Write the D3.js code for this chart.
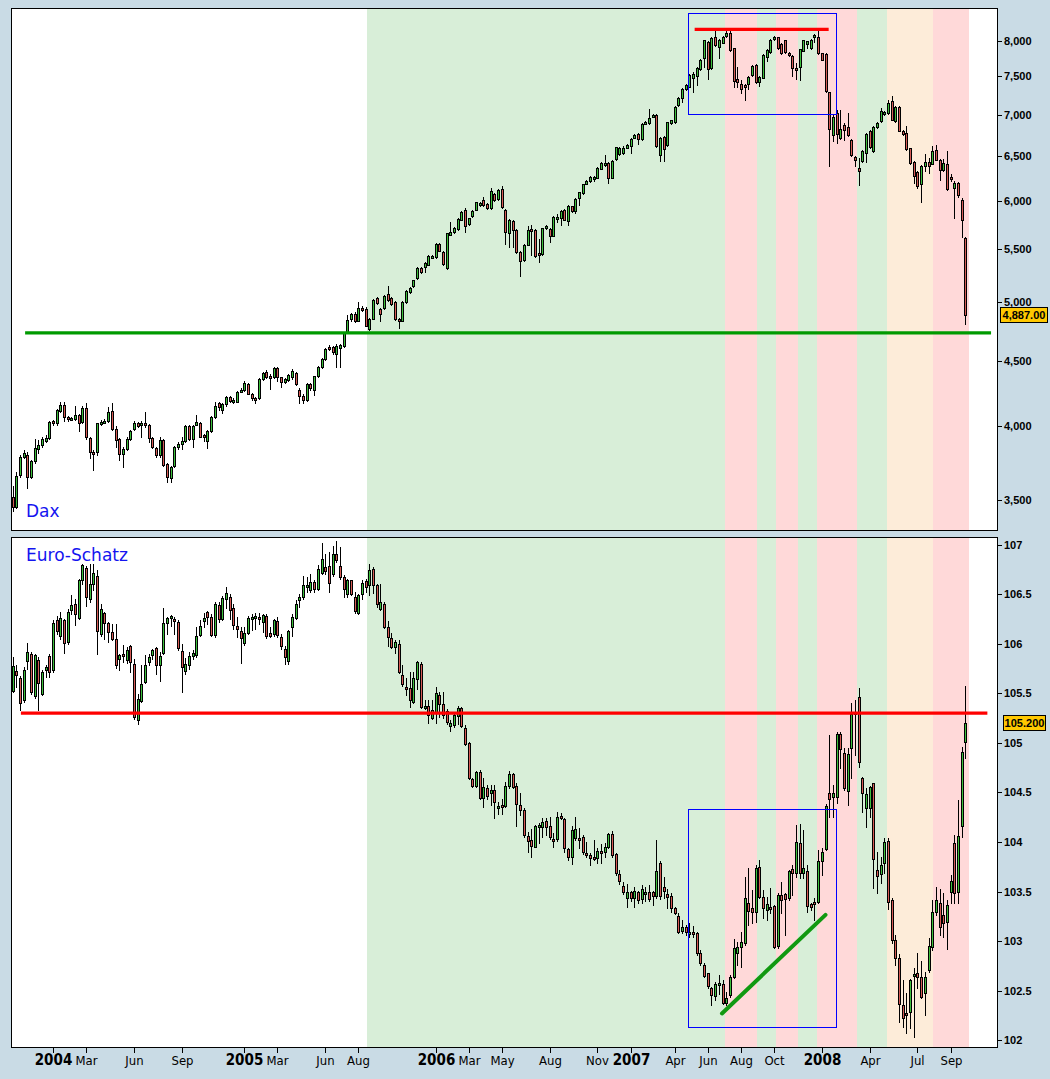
<!DOCTYPE html>
<html><head><meta charset="utf-8">
<script src="https://cdn.jsdelivr.net/npm/d3@7/dist/d3.min.js"></script>
<style>
html,body{margin:0;padding:0;background:#c9dbe5;}
svg{display:block;}
</style></head><body>
<svg id="c" width="1050" height="1079"></svg>
<script>
// ---- weekly bars (Sunday-dated) ----
const firstWeek = "2003-10-19";
const lastWeek = "2008-10-05";

// ---- DAX weekly OHLC ----
const daxOpen = [3518,3460,3660,3785,3800,3650,3755,3836,3866,3895,
3914,4033,4020,4110,4155,4065,4050,4052,4078,4030,
4130,3913,3817,3815,4020,4030,4040,4108,3980,3907,
3803,3839,3909,3980,4020,4020,4025,4008,3913,3844,
3795,3903,3734,3646,3720,3851,3873,3895,4000,3909,
4010,4020,3938,3891,3966,4063,4168,4118,4160,4213,
4180,4180,4257,4265,4318,4240,4206,4205,4353,4405,
4378,4365,4440,4365,4333,4345,4365,4400,4270,4225,
4193,4313,4270,4375,4448,4512,4608,4608,4553,4600,
4622,4737,4846,4893,4835,4945,4939,4766,4852,5035,
4939,4945,5068,5035,5000,4850,4835,5000,5089,5145,
5224,5312,5322,5346,5420,5418,5550,5467,5315,5643,
5673,5701,5797,5899,5751,5833,5902,5955,6005,5960,
5924,6067,6016,6122,5902,5657,5786,5694,5467,5395,
5543,5701,5694,5457,5450,5708,5701,5633,5815,5811,
5899,5780,5938,5892,6024,6081,6187,6216,6250,6254,
6356,6400,6417,6254,6460,6520,6532,6600,6615,6718,
6767,6699,6887,6898,6980,6999,6516,6732,6632,6898,
6910,7123,7217,7333,7366,7478,7500,7600,7755,7985,
7618,8056,7905,7970,8066,8105,7890,7466,7396,7387,
7396,7521,7657,7430,7485,7770,7840,8019,8047,7951,
8004,7827,7780,7617,7630,7856,7957,7890,8048,8048,
7820,7810,7291,6753,7022,6718,6875,6846,6692,6488,
6361,6437,6535,6805,6561,6846,6925,7010,7022,7176,
6920,7105,6801,6771,6593,6431,6318,6180,6386,6431,
6411,6573,6449,6334,6411,6259,6137,6190,6010,5606];
const daxHigh = [3590,3683,3800,3830,3815,3765,3905,3903,3925,3935,
4040,4045,4125,4180,4180,4075,4068,4150,4090,4150,
4167,3920,3830,4025,4045,4050,4138,4167,4000,3915,
3850,3920,3975,4040,4030,4035,4100,4015,3920,3850,
3925,3910,3740,3725,3860,3885,3920,4010,4010,4010,
4078,4030,3945,3975,4070,4176,4180,4170,4225,4225,
4205,4260,4283,4336,4325,4245,4215,4360,4405,4425,
4390,4445,4450,4372,4360,4395,4432,4410,4280,4235,
4325,4320,4380,4460,4520,4605,4625,4620,4635,4640,
4740,4880,4905,4910,5000,4960,4955,4860,5030,5045,
4950,5060,5145,5045,5010,4860,5005,5105,5135,5205,
5320,5325,5370,5440,5440,5555,5560,5475,5665,5770,
5720,5815,5890,5920,5820,5895,5990,5990,6040,5970,
6132,6080,6125,6160,5910,5805,5795,5700,5475,5545,
5735,5740,5700,5600,5715,5745,5710,5840,5860,5895,
5910,5955,5945,6025,6095,6185,6225,6275,6270,6375,
6435,6510,6430,6450,6610,6610,6615,6640,6715,6760,
6775,6900,6920,7078,7015,7010,6730,6740,6915,6940,
7110,7230,7345,7400,7535,7560,7625,7745,8015,7995,
8045,8150,8020,8070,8150,8140,7900,7630,7450,7400,
7505,7650,7670,7505,7805,7875,8020,8060,8055,7960,
8010,7840,7790,7680,7885,8015,8000,8020,8090,8140,
7830,7820,7300,7000,7060,7060,6900,7026,6705,6500,
6480,6570,6770,6815,6855,6910,7085,7050,7190,7240,
7110,7115,6810,6862,6600,6440,6325,6400,6520,6480,
6620,6630,6460,6470,6561,6290,6210,6200,6030,5615];
const daxLow = [3432,3450,3650,3775,3580,3640,3745,3808,3855,3888,
3905,4005,4010,4100,4040,4040,4045,4045,3966,4025,
3910,3780,3695,3800,4010,4020,4030,3970,3851,3766,
3718,3830,3900,3975,3995,3920,3990,3885,3845,3785,
3785,3720,3620,3618,3715,3840,3840,3890,3900,3851,
4005,3920,3895,3844,3960,4055,4120,4093,4150,4175,
4170,4175,4250,4260,4235,4195,4167,4200,4345,4360,
4275,4360,4336,4290,4320,4335,4355,4310,4167,4167,
4185,4270,4230,4370,4440,4505,4585,4555,4448,4450,
4615,4730,4835,4820,4830,4920,4785,4750,4845,4980,
4835,4935,5005,4970,4840,4772,4830,4990,5080,5135,
5215,5270,5275,5340,5410,5410,5475,5345,5305,5635,
5665,5690,5790,5670,5745,5825,5895,5945,5945,5915,
5915,6000,6010,5920,5550,5517,5517,5460,5243,5385,
5535,5437,5420,5370,5440,5700,5567,5625,5770,5740,
5790,5740,5880,5865,5950,6075,6180,6205,6210,6245,
6350,6390,6198,6245,6455,6510,6525,6590,6540,6710,
6640,6690,6880,6890,6970,6605,6443,6443,6620,6890,
6900,7115,7160,7320,7355,7299,7387,7590,7630,7470,
7600,7920,7747,7960,8050,7855,7360,7360,7285,7189,
7333,7510,7410,7375,7475,7713,7830,8010,7880,7810,
7830,7780,7500,7462,7450,7850,7890,7885,7985,7810,
7720,7300,6380,6680,6650,6700,6692,6740,6495,6390,
6165,6430,6427,6595,6550,6840,6915,7000,7015,6930,
6910,6795,6750,6575,6410,6190,6137,5990,6330,6300,
6405,6450,6229,6325,6115,6220,5820,6040,5616,4810];
const daxClose = [3455,3655,3782,3808,3650,3755,3845,3866,3907,3914,
4028,4020,4117,4155,4063,4050,4058,4078,4025,4130,
3920,3817,3812,4020,4032,4040,4105,3980,3900,3803,
3839,3909,3967,4025,4003,4025,4010,3913,3851,3795,
3903,3729,3652,3718,3851,3873,3895,4000,3909,4003,
4028,3925,3928,3966,4063,4146,4138,4160,4213,4187,
4195,4253,4265,4323,4240,4206,4200,4350,4397,4365,
4360,4440,4368,4333,4350,4385,4413,4318,4225,4193,
4318,4280,4373,4452,4512,4594,4600,4567,4622,4628,
4733,4838,4893,4830,4945,4935,4790,4852,5020,4990,
4890,5053,5014,4978,4846,4835,5000,5095,5126,5197,
5312,5280,5360,5428,5428,5546,5483,5353,5657,5667,
5708,5804,5881,5728,5811,5885,5980,5975,5955,5924,
6100,6009,6118,5928,5673,5797,5694,5467,5380,5539,
5691,5684,5428,5450,5708,5735,5633,5829,5829,5885,
5797,5945,5892,6016,6089,6176,6212,6265,6258,6367,
6425,6425,6254,6440,6603,6600,6600,6627,6707,6745,
6699,6890,6910,6958,7000,6615,6720,6587,6906,6930,
7103,7218,7333,7387,7521,7535,7614,7732,8004,7597,
8033,7937,8009,8056,8105,7866,7444,7430,7334,7375,
7494,7640,7423,7494,7795,7866,8009,8047,7890,7818,
7840,7795,7614,7612,7876,8004,7990,8009,8081,7820,
7732,7312,6822,6970,6760,6826,6813,6745,6507,6457,
6323,6561,6761,6606,6846,6897,7051,7035,7155,6937,
7098,6805,6761,6581,6420,6274,6164,6390,6434,6390,
6561,6457,6342,6420,6126,6237,6190,6056,5798,4887];

// ---- Euro-Schatz weekly OHLC ----
const schOpen = [105.524,105.722,105.655,105.430,105.827,105.897,105.470,105.840,105.497,105.739,
105.874,105.733,106.237,106.079,106.237,106.015,106.338,106.405,106.264,106.641,
106.765,106.456,106.607,106.681,106.096,106.311,106.210,106.116,106.049,105.844,
105.901,105.837,105.978,105.800,105.228,105.423,105.615,105.817,105.884,105.958,
105.783,105.911,106.210,106.267,106.254,106.217,105.928,105.726,105.783,105.874,
105.884,106.093,106.227,106.318,106.267,106.093,106.388,106.247,106.449,106.473,
106.362,106.177,106.129,106.008,106.113,106.264,106.267,106.274,106.220,106.284,
106.113,106.096,106.227,106.069,105.951,105.827,106.170,106.264,106.439,106.473,
106.574,106.547,106.624,106.550,106.718,106.775,106.785,106.708,106.903,106.782,
106.674,106.506,106.641,106.473,106.314,106.500,106.631,106.597,106.752,106.594,
106.355,106.399,106.167,106.055,105.965,105.995,105.682,105.564,105.551,105.416,
105.642,105.796,105.349,105.373,105.248,105.306,105.484,105.393,105.326,105.174,
105.181,105.275,105.349,105.147,104.996,104.636,104.569,104.710,104.448,104.542,
104.492,104.525,104.340,104.374,104.364,104.566,104.687,104.566,104.374,104.323,
104.064,104.021,103.953,104.162,104.148,104.216,104.162,104.031,104.027,104.263,
104.229,103.926,103.852,104.041,104.044,104.048,103.886,103.869,103.852,103.835,
103.913,103.903,103.947,104.078,103.876,103.675,103.561,103.438,103.491,103.438,
103.491,103.420,103.473,103.491,103.491,103.456,103.791,103.544,103.473,103.455,
103.331,103.257,103.106,103.146,103.089,103.096,103.079,102.884,102.759,102.675,
102.524,102.450,102.564,102.564,102.372,102.456,102.635,102.884,102.944,102.978,
103.381,103.331,103.297,103.745,103.449,103.314,103.348,103.355,102.951,103.466,
103.476,103.432,103.725,103.684,103.987,103.691,103.708,103.375,103.392,103.392,
103.812,103.926,104.498,104.458,104.458,105.087,104.895,104.515,104.946,105.316,
105.467,104.643,104.340,104.340,104.592,103.718,103.674,103.792,104.010,103.415,
103.012,102.826,102.356,102.278,102.288,102.651,102.675,102.641,102.473,102.709,
102.944,103.297,103.381,103.264,103.197,103.499,103.987,103.499,104.165,105.006];
const schHigh = [105.867,105.783,105.672,105.766,106.008,105.918,105.901,105.867,105.733,105.783,
105.901,106.237,106.281,106.321,106.254,106.355,106.489,106.456,106.658,106.809,
106.782,106.809,106.809,106.742,106.405,106.321,106.220,106.203,106.197,105.901,
105.985,105.968,105.985,105.850,105.497,105.783,105.884,105.901,105.951,105.968,
105.918,106.365,106.271,106.294,106.271,106.244,105.995,105.860,105.918,105.934,
106.170,106.237,106.311,106.331,106.298,106.422,106.422,106.479,106.574,106.506,
106.405,106.271,106.170,106.170,106.277,106.298,106.311,106.311,106.304,106.298,
106.170,106.254,106.271,106.103,105.975,106.143,106.298,106.439,106.506,106.681,
106.674,106.708,106.648,106.792,107.017,106.910,106.927,106.984,107.038,106.977,
106.691,106.658,106.648,106.523,106.506,106.641,106.658,106.809,106.779,106.604,
106.600,106.426,106.234,106.106,106.039,106.039,105.786,105.652,105.719,105.719,
105.830,105.820,105.433,105.433,105.433,105.568,105.517,105.511,105.339,105.231,
105.316,105.376,105.366,105.181,105.013,104.643,104.720,104.727,104.643,104.576,
104.576,104.576,104.407,104.431,104.609,104.720,104.694,104.593,104.498,104.340,
104.105,104.128,104.172,104.189,104.239,104.239,104.256,104.088,104.306,104.290,
104.239,103.937,104.162,104.249,104.138,104.071,104.004,103.886,104.021,103.937,
103.980,103.987,104.088,104.115,103.886,103.720,103.597,103.579,103.509,103.544,
103.509,103.562,103.544,103.562,103.509,104.021,103.809,103.650,103.526,103.482,
103.348,103.281,103.213,103.163,103.180,103.150,103.096,102.910,102.776,102.682,
102.541,102.591,102.658,102.608,102.490,102.658,103.018,102.994,103.096,103.650,
103.735,103.516,103.768,103.819,103.516,103.449,103.533,103.365,103.482,103.600,
103.482,103.718,103.768,104.172,104.182,104.121,103.768,103.381,103.432,103.920,
103.937,104.384,105.080,104.575,105.114,105.114,104.946,104.946,105.400,105.433,
105.551,104.660,104.542,104.565,104.599,103.903,103.853,104.037,104.037,103.432,
103.062,102.870,102.608,102.480,102.614,102.726,102.877,102.803,102.692,103.028,
103.415,103.550,103.523,103.482,103.415,103.667,104.071,104.424,104.962,105.574];
const schLow = [105.514,105.564,105.336,105.413,105.749,105.497,105.453,105.329,105.480,105.665,
105.665,105.716,106.103,106.052,105.907,106.002,106.304,106.187,106.254,106.607,
106.378,106.422,106.540,105.894,106.076,106.052,106.019,106.035,105.759,105.732,
105.817,105.807,105.716,105.245,105.188,105.413,105.605,105.783,105.850,105.699,
105.625,105.901,106.103,106.177,106.103,105.941,105.514,105.699,105.749,105.850,
105.867,106.076,106.170,106.203,106.076,106.069,106.220,106.237,106.365,106.254,
106.153,106.069,105.807,105.985,106.103,106.143,106.153,106.203,106.119,106.062,
106.069,106.076,106.069,105.951,105.793,105.793,106.076,106.254,106.372,106.456,
106.523,106.523,106.523,106.540,106.708,106.708,106.523,106.681,106.826,106.658,
106.473,106.473,106.489,106.311,106.304,106.456,106.523,106.489,106.510,106.375,
106.341,106.156,105.978,105.955,105.904,105.709,105.575,105.484,105.366,105.406,
105.541,105.349,105.340,105.198,105.238,105.205,105.265,105.248,105.191,105.124,
105.164,105.188,105.164,104.979,104.633,104.559,104.552,104.431,104.357,104.431,
104.374,104.239,104.283,104.283,104.350,104.549,104.549,104.162,104.273,104.054,
103.903,103.852,103.947,103.987,104.054,104.071,104.027,103.953,104.014,104.229,
103.903,103.819,103.778,104.021,103.937,103.879,103.852,103.768,103.819,103.792,
103.792,103.852,103.937,103.852,103.667,103.579,103.473,103.349,103.403,103.349,
103.385,103.385,103.403,103.403,103.367,103.438,103.420,103.438,103.332,103.291,
103.270,103.079,103.079,103.062,103.045,103.040,102.860,102.759,102.641,102.524,
102.356,102.406,102.467,102.366,102.356,102.440,102.625,102.759,102.742,102.961,
103.163,103.180,103.197,103.432,103.230,103.213,103.281,102.927,102.927,103.281,
103.062,103.415,103.466,103.650,103.634,103.634,103.297,103.314,103.213,103.382,
103.667,103.920,104.256,104.256,104.391,104.744,104.525,104.374,104.643,104.878,
104.754,104.306,104.155,104.256,103.533,103.489,103.583,103.684,103.321,102.978,
102.759,102.187,102.137,102.070,102.120,102.036,102.524,102.423,102.255,102.692,
102.911,103.264,103.062,103.045,102.917,103.388,103.388,103.388,104.054,104.845];
const schClose = [105.776,105.682,105.406,105.733,105.914,105.514,105.884,105.608,105.716,105.766,
105.716,106.210,106.126,106.261,106.008,106.321,106.388,106.298,106.641,106.795,
106.473,106.600,106.715,106.126,106.355,106.210,106.119,106.052,105.790,105.884,
105.874,105.941,105.817,105.262,105.440,105.598,105.783,105.867,105.934,105.783,
105.874,106.210,106.261,106.277,106.244,105.961,105.766,105.800,105.874,105.907,
106.076,106.177,106.261,106.271,106.093,106.405,106.247,106.466,106.513,106.345,
106.187,106.153,106.056,106.113,106.261,106.271,106.284,106.264,106.288,106.076,
106.076,106.237,106.086,105.975,105.867,106.126,106.271,106.405,106.473,106.590,
106.590,106.624,106.557,106.752,106.853,106.732,106.614,106.903,106.843,106.674,
106.550,106.641,106.506,106.331,106.496,106.614,106.574,106.748,106.594,106.399,
106.419,106.167,106.072,105.971,106.015,105.719,105.591,105.541,105.433,105.652,
105.820,105.359,105.373,105.282,105.332,105.501,105.393,105.282,105.208,105.205,
105.282,105.349,105.174,104.989,104.649,104.569,104.710,104.448,104.552,104.468,
104.525,104.407,104.364,104.367,104.566,104.687,104.559,104.381,104.323,104.071,
104.014,103.963,104.162,104.172,104.206,104.155,104.048,104.017,104.256,104.239,
103.937,103.852,104.122,104.128,104.021,103.903,103.869,103.842,103.842,103.913,
103.903,103.947,104.078,103.869,103.684,103.604,103.491,103.491,103.438,103.509,
103.410,103.526,103.491,103.420,103.456,103.703,103.456,103.509,103.445,103.338,
103.281,103.096,103.146,103.096,103.096,103.072,102.884,102.776,102.651,102.547,
102.456,102.567,102.574,102.379,102.423,102.641,102.927,102.944,102.988,103.432,
103.308,103.297,103.735,103.449,103.338,103.375,103.338,102.944,103.466,103.415,
103.422,103.708,103.691,103.997,103.684,103.735,103.358,103.348,103.382,103.812,
103.903,104.367,104.431,104.498,105.087,104.935,104.542,104.888,105.289,105.289,
104.804,104.498,104.485,104.552,103.825,103.661,103.768,103.997,103.398,103.012,
102.826,102.366,102.221,102.265,102.608,102.668,102.635,102.440,102.641,102.951,
103.297,103.415,103.146,103.180,103.365,103.607,103.482,104.061,104.912,105.200];

// ---- axis ticks ----
const daxTicks = [3500,4000,4500,5000,5500,6000,6500,7000,7500,8000];
const schTicks = [102,102.5,103,103.5,104,104.5,105,105.5,106,106.5,107];
const xTickMonths = ["2004-01","2004-03","2004-06","2004-09","2005-01","2005-03","2005-06","2005-08",
"2006-01","2006-03","2006-05","2006-08","2006-11","2007-01","2007-04","2007-06","2007-08","2007-10",
"2008-01","2008-04","2008-07","2008-09"];
const xTickLabels = ["2004","Mar","Jun","Sep","2005","Mar","Jun","Aug","2006","Mar","May","Aug","Nov",
"2007","Apr","Jun","Aug","Oct","2008","Apr","Jul","Sep"];

// ---- background regimes ----
const bandStarts = ["2005-08-24","2007-07-06","2007-09-05","2007-10-10","2007-11-21","2007-12-28","2008-03-12","2008-05-09","2008-08-04"];
const bandEnds   = ["2007-07-06","2007-09-05","2007-10-10","2007-11-21","2007-12-28","2008-03-12","2008-05-09","2008-08-04","2008-10-12"];
const bandKinds  = ["up","down","up","down","up","down","up","side","down"];

// ---- annotations ----
const daxSupport = {from:"2003-11-12", to:"2008-11-23", value:4730};
const daxTopLine = {from:"2007-05-09", to:"2008-01-19", value:8164};
const daxBox = {from:"2007-04-26", to:"2008-02-02", hi:8404, lo:7007};
const schLevel = {from:"2003-11-04", to:"2008-11-16", value:105.3};
const schBox = {from:"2007-04-26", to:"2008-02-02", hi:104.338, lo:102.137};
const schTrend = {from:"2007-06-30", to:"2008-01-13", v0:102.27, v1:103.265};

// ================= drawing =================
const svg = d3.select("#c");
const parse = d3.utcParse("%Y-%m-%d");
const weeks = d3.utcWeek.range(parse(firstWeek), d3.utcDay.offset(parse(lastWeek), 1));

const X0 = 11, X1 = 998;
const pTop = {y0: 8, y1: 531}, pBot = {y0: 537, y1: 1048};

const x = d3.scaleTime().domain([weeks[0], weeks[weeks.length - 1]]).range([12.5, 965.3]);
const yDax = d3.scaleLog().domain([3500, 8000]).range([500.3, 40.6]);
const ySch = d3.scaleLinear().domain([102, 107]).range([1040.2, 544.7]);

const bandColor = {up: "#d8eed8", down: "#ffd9d9", side: "#fdecd9"};
const upFill = "#3cbf3c", downFill = "#d65a55";

const defs = svg.append("defs");
[["clipTop", pTop], ["clipBot", pBot]].forEach(([id, p]) => {
  defs.append("clipPath").attr("id", id).append("rect")
    .attr("x", X0).attr("y", p.y0).attr("width", X1 - X0).attr("height", p.y1 - p.y0);
});

function panel(p, clipId, y, O, H, L, C) {
  svg.append("rect").attr("x", X0).attr("y", p.y0).attr("width", X1 - X0).attr("height", p.y1 - p.y0).attr("fill", "#fff");
  const g = svg.append("g").attr("clip-path", `url(#${clipId})`);
  bandStarts.forEach((s, i) => {
    const a = Math.round(x(parse(s))), b = Math.round(x(parse(bandEnds[i])));
    g.append("rect").attr("x", a).attr("y", p.y0).attr("width", b - a).attr("height", p.y1 - p.y0)
      .attr("fill", bandColor[bandKinds[i]]);
  });
  const cg = g.append("g").attr("shape-rendering", "crispEdges");
  weeks.forEach((d, i) => {
    const cx = Math.round(x(d));
    const o = O[i], c = C[i], h = H[i], l = L[i];
    const yh = Math.round(y(h)), yl = Math.round(y(l));
    let yt = Math.round(y(Math.max(o, c))), yb = Math.round(y(Math.min(o, c)));
    if (yb - yt < 2) { yb = yt + 2; }
    cg.append("rect").attr("x", cx).attr("y", Math.min(yh, yt)).attr("width", 1)
      .attr("height", Math.max(yl, yb) - Math.min(yh, yt) + 1).attr("fill", "#000");
    cg.append("rect").attr("x", cx - 1).attr("y", yt).attr("width", 3).attr("height", yb - yt + 1).attr("fill", "#000");
    if (yb - yt >= 2) {
      cg.append("rect").attr("x", cx).attr("y", yt + 1).attr("width", 1).attr("height", yb - yt - 1)
        .attr("fill", c >= o ? upFill : downFill);
    }
  });
  return g;
}

const gTop = panel(pTop, "clipTop", yDax, daxOpen, daxHigh, daxLow, daxClose);
const gBot = panel(pBot, "clipBot", ySch, schOpen, schHigh, schLow, schClose);

// annotations top
svg.append("line").attr("x1", x(parse(daxSupport.from))).attr("x2", x(parse(daxSupport.to)))
  .attr("y1", yDax(daxSupport.value)).attr("y2", yDax(daxSupport.value))
  .attr("stroke", "#009a00").attr("stroke-width", 3.2);
gTop.append("line").attr("x1", x(parse(daxTopLine.from))).attr("x2", x(parse(daxTopLine.to)))
  .attr("y1", yDax(daxTopLine.value)).attr("y2", yDax(daxTopLine.value))
  .attr("stroke", "#ff0000").attr("stroke-width", 3.2);
gTop.append("rect").attr("x", Math.round(x(parse(daxBox.from))) + 0.5).attr("y", Math.round(yDax(daxBox.hi)) + 0.5)
  .attr("width", Math.round(x(parse(daxBox.to))) - Math.round(x(parse(daxBox.from))))
  .attr("height", Math.round(yDax(daxBox.lo)) - Math.round(yDax(daxBox.hi)))
  .attr("fill", "none").attr("stroke", "#0000ff").attr("stroke-width", 1);

// annotations bottom
svg.append("line").attr("x1", x(parse(schLevel.from))).attr("x2", x(parse(schLevel.to)))
  .attr("y1", ySch(schLevel.value)).attr("y2", ySch(schLevel.value))
  .attr("stroke", "#ff0000").attr("stroke-width", 3.2);
gBot.append("rect").attr("x", Math.round(x(parse(schBox.from))) + 0.5).attr("y", Math.round(ySch(schBox.hi)) + 0.5)
  .attr("width", Math.round(x(parse(schBox.to))) - Math.round(x(parse(schBox.from))))
  .attr("height", Math.round(ySch(schBox.lo)) - Math.round(ySch(schBox.hi)))
  .attr("fill", "none").attr("stroke", "#0000ff").attr("stroke-width", 1);
gBot.append("line").attr("x1", x(parse(schTrend.from))).attr("x2", x(parse(schTrend.to)))
  .attr("y1", ySch(schTrend.v0)).attr("y2", ySch(schTrend.v1))
  .attr("stroke", "#119911").attr("stroke-width", 4).attr("stroke-linecap", "round");

// borders
[pTop, pBot].forEach(p => {
  svg.append("rect").attr("x", X0 + 0.5).attr("y", p.y0 + 0.5).attr("width", X1 - X0 - 1).attr("height", p.y1 - p.y0 - 1)
    .attr("fill", "none").attr("stroke", "#000").attr("stroke-width", 1);
});

// titles
svg.append("text").attr("x", 26).attr("y", 517).text("Dax")
  .attr("font-family", "DejaVu Sans, sans-serif").attr("font-size", 17).attr("fill", "#1414f0");
svg.append("text").attr("x", 26).attr("y", 561).text("Euro-Schatz")
  .attr("font-family", "DejaVu Sans, sans-serif").attr("font-size", 17).attr("fill", "#1414f0");

// right axes
const fmtDax = d3.format(",");
function rightAxis(ticks, y, fmt) {
  const g = svg.append("g");
  ticks.forEach(v => {
    const yy = Math.round(y(v)) + 0.5;
    g.append("line").attr("x1", X1).attr("x2", X1 + 4).attr("y1", yy).attr("y2", yy).attr("stroke", "#000");
    g.append("text").attr("x", X1 + 6).attr("y", yy).attr("dy", "0.36em").text(fmt(v))
      .attr("font-family", "Liberation Sans, Arial, sans-serif").attr("font-weight", "bold")
      .attr("font-size", 11).attr("fill", "#000");
  });
}
rightAxis(daxTicks, yDax, fmtDax);
rightAxis(schTicks, ySch, v => String(v));

// last price boxes
function priceBox(v, y, label, bx, bw) {
  const yy = y(v);
  svg.append("rect").attr("x", bx + 0.5).attr("y", Math.round(yy - 8) + 0.5).attr("width", bw).attr("height", 15)
    .attr("fill", "#ffc800").attr("stroke", "#000");
  svg.append("text").attr("x", bx + bw / 2 + 0.5).attr("y", Math.round(yy - 8) + 8).attr("dy", "0.36em")
    .attr("text-anchor", "middle").text(label)
    .attr("font-family", "Liberation Sans, Arial, sans-serif").attr("font-weight", "bold")
    .attr("font-size", 11).attr("fill", "#000");
}
priceBox(daxClose[daxClose.length - 1], yDax, d3.format(",.2f")(daxClose[daxClose.length - 1]), 1000, 47);
priceBox(schClose[schClose.length - 1], ySch, d3.format(".3f")(schClose[schClose.length - 1]), 1003, 42);

// bottom time axis
xTickMonths.forEach((m, i) => {
  const [yy, mm] = m.split("-").map(Number);
  const d = d3.utcWeek.ceil(new Date(Date.UTC(yy, mm - 1, 1)));
  const xx = Math.round(x(d)) + 0.5;
  svg.append("line").attr("x1", xx).attr("x2", xx).attr("y1", pBot.y1).attr("y2", pBot.y1 + 5).attr("stroke", "#000");
  const isYear = /^\d{4}$/.test(xTickLabels[i]);
  svg.append("text").attr("x", xx).attr("y", 1065).attr("text-anchor", "middle").text(xTickLabels[i])
    .attr("font-family", "Liberation Sans Narrow, Arial Narrow, DejaVu Sans Condensed, sans-serif")
    .attr("font-weight", isYear ? "bold" : "normal")
    .attr("font-size", isYear ? 15 : 13).attr("fill", "#000");
});
</script>
</body></html>
